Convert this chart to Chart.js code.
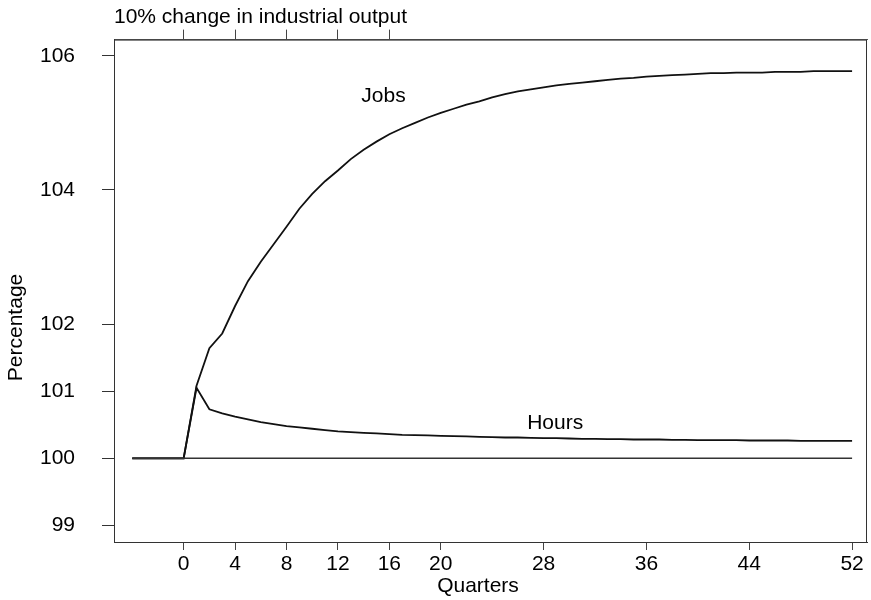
<!DOCTYPE html>
<html>
<head>
<meta charset="utf-8">
<script src="https://cdn.jsdelivr.net/npm/chart.js@4/dist/chart.umd.min.js"></script>
<style>
  html, body { margin: 0; padding: 0; background: #fff; }
  #wrap { width: 871px; height: 600px; position: relative; }
</style>
</head>
<body>
<div id="wrap"><canvas id="c"></canvas></div>
<script>
// ---- data ----
const quarters = [-4,-3,-2,-1,0,1,2,3,4,5,6,7,8,9,10,11,12,13,14,15,16,17,18,19,20,
  21,22,23,24,25,26,27,28,29,30,31,32,33,34,35,36,37,38,39,40,41,42,43,44,45,46,47,48,49,50,51,52];
const jobs = [100,100,100,100,100,
  101.08,101.64,101.86,102.27,102.64,102.93,103.19,103.45,103.72,103.94,
  104.13,104.29,104.46,104.60,104.72,104.83,104.92,105.00,105.08,105.15,
  105.21,105.27,105.32,105.38,105.43,105.47,105.50,105.53,105.56,105.58,
  105.60,105.62,105.64,105.66,105.67,105.69,105.70,105.71,105.72,105.73,
  105.74,105.74,105.75,105.75,105.75,105.76,105.76,105.76,105.77,105.77,105.77,105.77];
const hours = [100,100,100,100,100,
  101.05,100.73,100.67,100.62,100.58,100.54,100.51,100.48,100.46,100.44,
  100.42,100.40,100.39,100.38,100.37,100.36,100.35,100.345,100.34,100.335,
  100.33,100.325,100.32,100.315,100.31,100.31,100.305,100.30,100.30,100.295,
  100.29,100.29,100.285,100.285,100.28,100.28,100.28,100.275,100.275,100.27,
  100.27,100.27,100.27,100.265,100.265,100.265,100.265,100.26,100.26,100.26,100.26,100.26];
const baselineQuarters = [-4, 52];
const baselineValues = [100, 100];
const xTickValues = [0,4,8,12,16,20,28,36,44,52];
const topTickValues = [0,4,8,12,16];
const yTickValues = [99,100,101,102,104,106];
const seriesNames = ['Jobs', 'Hours'];
const topTitle = '10% change in industrial output';
const xTitle = 'Quarters';
const yTitle = 'Percentage';

// ---- chart ----
const FONT = '"Liberation Sans", Arial, Helvetica, sans-serif';
const pts = (xs, ys) => xs.map((q, i) => ({ x: q, y: ys[i] }));
const X_MIN = -5.42, X_MAX = 53.16, Y_MIN = 98.752, Y_MAX = 106.241;

const annot = {
  id: 'annot',
  afterDraw(chart) {
    const { ctx, chartArea: a, scales: { x, y } } = chart;
    ctx.save();
    ctx.strokeStyle = '#333';
    ctx.lineWidth = 1;
    ctx.strokeRect(a.left + 0.5, a.top + 0.5, a.right - a.left - 1, a.bottom - a.top);
    ctx.fillStyle = '#000';
    ctx.font = '21px ' + FONT;
    ctx.textAlign = 'center';
    ctx.textBaseline = 'middle';
    ctx.fillText(seriesNames[0], x.getPixelForValue(15.55), y.getPixelForValue(105.39));
    ctx.fillText(seriesNames[1], x.getPixelForValue(28.9), y.getPixelForValue(100.52));
    ctx.fillText(xTitle, a.left + 364, 586);
    ctx.translate(16, y.getPixelForValue(101.95));
    ctx.rotate(-Math.PI / 2);
    ctx.fillText(yTitle, 0, 0);
    ctx.restore();
  }
};

new Chart(document.getElementById('c'), {
  type: 'line',
  data: {
    datasets: [
      { label: 'Baseline', data: pts(baselineQuarters, baselineValues), borderColor: '#333', borderWidth: 1.5 },
      { label: seriesNames[0], data: pts(quarters, jobs), borderColor: '#111', borderWidth: 1.8 },
      { label: seriesNames[1], data: pts(quarters, hours), borderColor: '#111', borderWidth: 1.8 }
    ]
  },
  options: {
    responsive: true,
    maintainAspectRatio: false,
    animation: false,
    elements: { point: { radius: 0 }, line: { tension: 0 } },
    layout: { padding: { left: 0, right: 4, top: 0, bottom: 0 } },
    plugins: { legend: { display: false }, tooltip: { enabled: false } },
    scales: {
      x: {
        type: 'linear', position: 'bottom', min: X_MIN, max: X_MAX,
        afterBuildTicks: s => { s.ticks = xTickValues.map(v => ({ value: v })); },
        afterFit: s => { s.height = 58; },
        ticks: { color: '#000', font: { family: FONT, size: 21 }, padding: 1.5, maxRotation: 0, autoSkip: false,
                 callback: v => String(v) },
        grid: { drawOnChartArea: false, drawTicks: true, tickLength: 8, color: '#444', lineWidth: 1 },
        border: { display: true, color: '#333', width: 1 }
      },
      x2: {
        type: 'linear', position: 'top', min: X_MIN, max: X_MAX,
        afterBuildTicks: s => { s.ticks = topTickValues.map(v => ({ value: v })); },
        afterFit: s => { s.height = 38; },
        ticks: { display: true, callback: () => '', padding: 0 },
        grid: { drawOnChartArea: false, drawTicks: true, tickLength: 10, color: '#444', lineWidth: 1 },
        border: { display: true, color: '#555', width: 1 },
        title: { display: true, text: topTitle, align: 'start', color: '#000',
                 font: { family: FONT, size: 21 }, padding: { top: 3, bottom: 0 } }
      },
      y: {
        type: 'linear', position: 'left', min: Y_MIN, max: Y_MAX,
        afterBuildTicks: s => { s.ticks = yTickValues.map(v => ({ value: v })); },
        afterFit: s => { s.width = 114; },
        ticks: { color: '#000', font: { family: FONT, size: 21 }, padding: 27, autoSkip: false,
                 callback: v => String(v) },
        grid: { drawOnChartArea: false, drawTicks: true, tickLength: 12, color: '#333', lineWidth: 1 },
        border: { display: true, color: '#333', width: 1 }
      }
    }
  },
  plugins: [annot]
});
</script>
</body>
</html>
